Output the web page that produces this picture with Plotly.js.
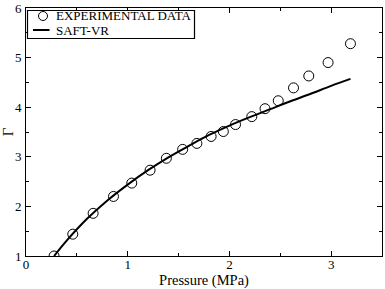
<!DOCTYPE html>
<html><head><meta charset="utf-8">
<script src="https://cdn.plot.ly/plotly-3.0.1.min.js"></script>
<style>html,body{margin:0;padding:0;background:#fff}#c{width:385px;height:289px}</style>
</head><body><div id="c"></div>
<script>
const expP = [0.276,0.46,0.66,0.86,1.04,1.22,1.38,1.54,1.68,1.82,1.94,2.06,2.22,2.35,2.48,2.63,2.78,2.97,3.19];
const expG = [1.0,1.44,1.86,2.2,2.47,2.73,2.97,3.15,3.27,3.41,3.51,3.65,3.81,3.97,4.13,4.39,4.63,4.9,5.28];
const saftP = [0.276,0.4,0.6,0.8,1.0,1.2,1.4,1.6,1.8,2.0,2.2,2.4,2.6,2.8,3.0,3.19];
const saftG = [1.0,1.31,1.75,2.12,2.44,2.73,2.99,3.22,3.44,3.63,3.80,3.96,4.12,4.27,4.43,4.57];
const seriesNames = ['EXPERIMENTAL DATA', 'SAFT-VR'];

const font = {family:'"Liberation Serif","Times New Roman",serif', color:'#000'};
const data = [
  {x:expP, y:expG, type:'scatter', mode:'markers', name:seriesNames[0], showlegend:false,
   marker:{symbol:'circle-open', size:10, color:'#000', line:{width:1,color:'#000'}}},
  {x:saftP, y:saftG, type:'scatter', mode:'lines', name:seriesNames[1], showlegend:false,
   line:{color:'#000', width:2, shape:'spline'}}
];
const axBase = {showline:true, linecolor:'#000', linewidth:1, mirror:'ticks', ticks:'inside',
  ticklen:5, tickwidth:1, tickcolor:'#000', showgrid:false, zeroline:false,
  tickfont:Object.assign({size:13},font),
  minor:{ticks:'inside', ticklen:3, tickwidth:1, tickcolor:'#000', dtick:0.5}};

// legend box (drawn in plot-area paper coordinates)
const W = 356, H = 248, L = 26, B = 256;
const px = v => (v - L) / W, py = v => (B - v) / H;
const shapes = [
  {type:'rect', xref:'paper', yref:'paper', x0:px(27.5), x1:px(194.5), y0:py(38.5), y1:py(10.5),
   line:{color:'#000000', width:1.2}, fillcolor:'rgba(255,255,255,1)', layer:'above'},
  {type:'circle', xref:'paper', yref:'paper', x0:px(38.5), x1:px(47.5), y0:py(20.5), y1:py(11.5),
   line:{color:'#000', width:1}, layer:'above'},
  {type:'line', xref:'paper', yref:'paper', x0:px(33), x1:px(49.5), y0:py(30), y1:py(30),
   line:{color:'#000', width:2}, layer:'above'}
];
const annotations = [
  {xref:'paper', yref:'paper', x:px(54), y:py(16), xanchor:'left', yanchor:'middle', showarrow:false,
   text:seriesNames[0], font:Object.assign({size:13},font)},
  {xref:'paper', yref:'paper', x:px(54), y:py(30), xanchor:'left', yanchor:'middle', showarrow:false,
   text:seriesNames[1], font:Object.assign({size:13},font)}
];
const layout = {
  width:385, height:289, margin:{l:26,r:3,t:8,b:33},
  paper_bgcolor:'#fff', plot_bgcolor:'#fff', font:font, showlegend:false,
  xaxis:Object.assign({}, axBase, {range:[0,3.5], dtick:1, tick0:0, ticklabelstandoff:-4,
    title:{text:'Pressure (MPa)', font:Object.assign({size:14.5},font), standoff:0}}),
  yaxis:Object.assign({}, axBase, {range:[1,6], dtick:1, tick0:0, ticklabelstandoff:1,
    title:{text:'Γ', font:Object.assign({size:15},font), standoff:4}}),
  shapes:shapes, annotations:annotations
};
Plotly.newPlot('c', data, layout, {displayModeBar:false});
</script></body></html>
